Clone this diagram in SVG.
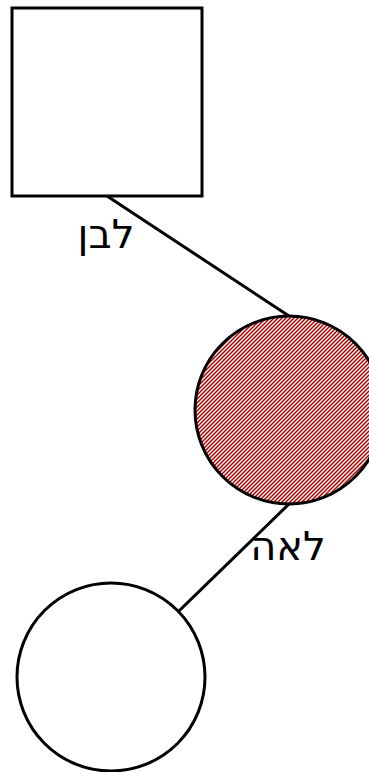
<svg xmlns="http://www.w3.org/2000/svg" width="369" height="772" viewBox="0 0 369 772">
<style>
.shape{stroke:#000;stroke-width:3}
.edge{stroke:#000;stroke-width:3;fill:none}
.lbl{font-family:"DejaVu Sans",sans-serif;font-size:40px;text-anchor:middle;fill:#000}
</style>
<defs>
<pattern id="hatch" patternUnits="userSpaceOnUse" width="4" height="4">
<rect width="4" height="4" fill="#fff"/>
<path d="M-1,1 L1,-1 M0,4 L4,0 M3,5 L5,3" stroke="#b00000" stroke-width="1.5"/>
</pattern>
</defs>
<g id="n1">
<rect class="shape" x="12" y="8" width="190" height="188" fill="#fff"/>
<text class="lbl" x="106" y="248">לבן</text>
</g>
<g id="edges">
<line class="edge" x1="107" y1="196" x2="289" y2="316"/>
<line class="edge" x1="289" y1="504" x2="111" y2="677"/>
</g>
<g id="n2">
<circle class="shape" cx="289" cy="410" r="94" fill="url(#hatch)"/>
<text class="lbl" x="288" y="560">לאה</text>
</g>
<g id="n3">
<circle class="shape" cx="111" cy="677" r="94" fill="#fff"/>
</g>
</svg>
